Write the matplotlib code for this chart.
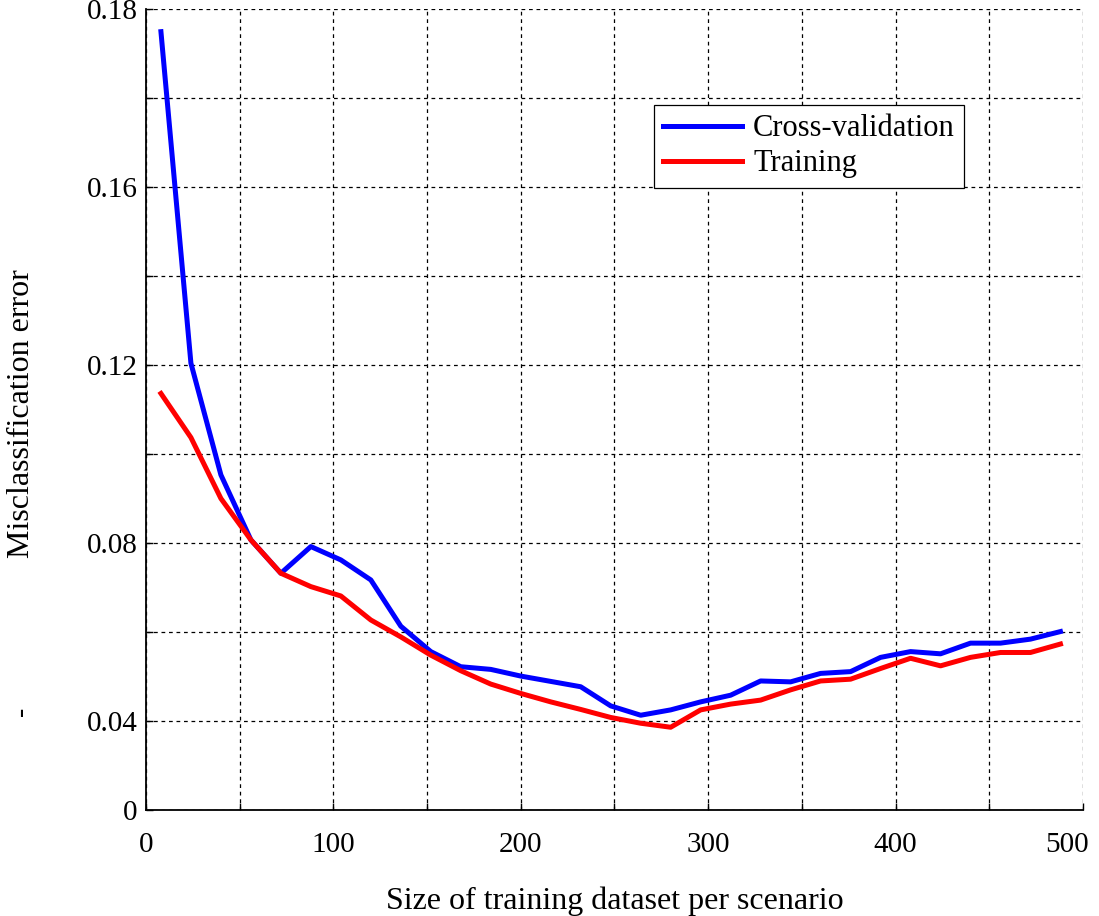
import numpy as np
import matplotlib
matplotlib.use("Agg")
import matplotlib.pyplot as plt
from matplotlib.transforms import ScaledTranslation

# data (y in axis units, grid step 0.02)
train_size = [8, 24, 40, 56, 72, 88, 104, 120, 136, 152, 168, 184, 200, 216, 232,
              248, 264, 280, 296, 312, 328, 344, 360, 376, 392, 408, 424, 440, 456, 472, 488]
cv_error = [0.1749, 0.1004, 0.0753, 0.0607, 0.0532, 0.0592, 0.0562, 0.0517, 0.0413,
            0.0356, 0.0322, 0.0316, 0.0301, 0.0289, 0.0277, 0.0234, 0.0213, 0.0225,
            0.0243, 0.0258, 0.0290, 0.0288, 0.0307, 0.0311, 0.0343, 0.0356, 0.0351,
            0.0375, 0.0375, 0.0384, 0.0401]
train_error = [0.0936, 0.0837, 0.0700, 0.0607, 0.0532, 0.0502, 0.0481, 0.0427, 0.0389,
               0.0348, 0.0313, 0.0283, 0.0262, 0.0243, 0.0226, 0.0208, 0.0195, 0.0186,
               0.0225, 0.0238, 0.0247, 0.0270, 0.0290, 0.0294, 0.0318, 0.0341, 0.0324,
               0.0343, 0.0354, 0.0354, 0.0373]

y_ticks = [0, 0.02, 0.04, 0.06, 0.08, 0.10, 0.12, 0.14, 0.16, 0.18]
y_tick_labels = ["0", "0.04", "", "0.08", "", "0.12", "", "0.16", "", "0.18"]
x_ticks = [0, 50, 100, 150, 200, 250, 300, 350, 400, 450, 500]
x_tick_labels = ["0", "", "100", "", "200", "", "300", "", "400", "", "500"]

plt.rcParams["font.family"] = ["Liberation Serif", "DejaVu Serif"]
plt.rcParams["font.size"] = 22

fig = plt.figure(figsize=(10.99, 9.16), dpi=100)
ax = fig.add_axes([0.1328, 0.1157, 0.8526, 0.8745])

ax.plot(train_size, cv_error, color="#0000ff", lw=3.6, label="Cross-validation")
ax.plot(train_size, train_error, color="#ff0000", lw=3.6, label="Training")

ax.set_xlim(0, 500)
ax.set_ylim(0, 0.18)
ax.set_xticks(x_ticks)
ax.set_xticklabels(x_tick_labels)
ax.set_yticks(y_ticks)
ax.set_yticklabels(y_tick_labels)
ax.tick_params(direction="in", length=5, width=1, labelsize=21)
ax.tick_params(axis="x", pad=16)
ax.tick_params(axis="y", pad=6)

# last x label sits a little left of the axis end, as in the original
last = ax.get_xticklabels()[-1]
last.set_transform(last.get_transform() + ScaledTranslation(-16 / 100, 0, fig.dpi_scale_trans))

ax.grid(True, color="black", linestyle=(0, (3, 3)), linewidth=0.9)
ax.spines["top"].set_visible(False)
ax.spines["right"].set_visible(False)
ax.spines["left"].set_linewidth(1.3)
ax.spines["bottom"].set_linewidth(1.3)

ax.set_xlabel("Size of training dataset per scenario", labelpad=20, fontsize=23)
fig.text(0.02, 0.548, "Misclassification error", rotation=90, ha="center", va="center", fontsize=23)
fig.text(0.02, 0.223, "-", rotation=90, ha="center", va="center", fontsize=20)

leg = ax.legend(loc="upper left", bbox_to_anchor=(0.542, 0.880), frameon=True,
                fancybox=False, framealpha=1, edgecolor="black", fontsize=22,
                handlelength=2.6, borderpad=0.3, labelspacing=0.2, handletextpad=0.35,
                borderaxespad=0)
leg.get_frame().set_linewidth(0.9)

fig.savefig("out.png", dpi=100)
